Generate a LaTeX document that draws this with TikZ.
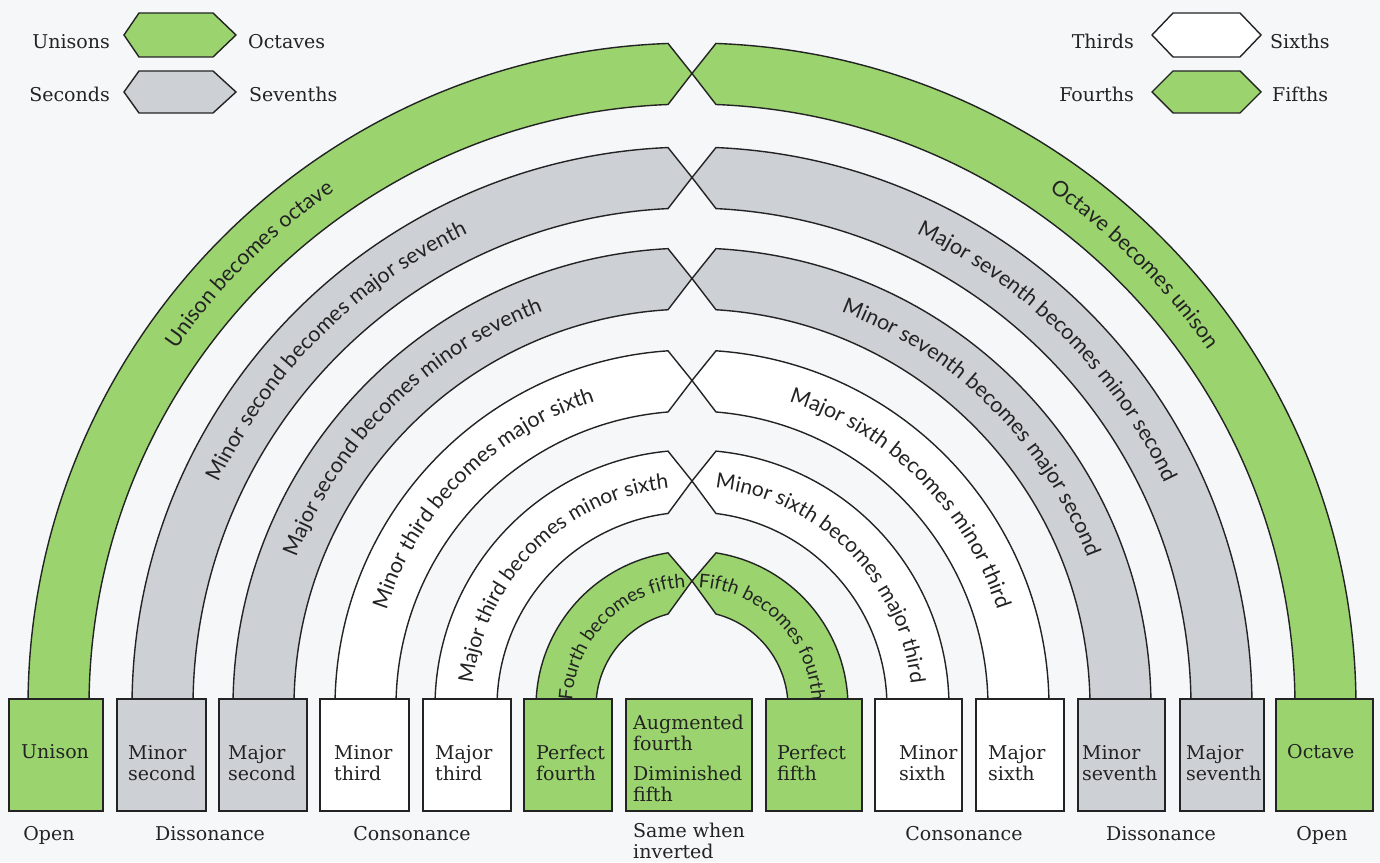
\documentclass[tikz,border=0pt]{standalone}
\usepackage{fontspec}
\setmainfont{DejaVu Serif}
\newfontfamily\arcfont{Lato}
\usetikzlibrary{decorations.text}

\definecolor{bandgreen}{RGB}{155,212,110}
\definecolor{bandgray}{RGB}{205,208,213}
\definecolor{paper}{RGB}{246,247,248}
\definecolor{ink}{RGB}{35,35,35}

% horizontal half-width of the pointed tips where the two halves of a band meet
\newcommand\chevoff{24}

% left half of a band: outer radius, inner radius, fill colour
\newcommand\bandleft[3]{%
  \filldraw[outline, fill=#3] (180:#1)
    arc[start angle=180, end angle={90+asin(\chevoff/#1)}, radius=#1]
    -- (0,{(#1+#2)/2}) -- ({90+asin(\chevoff/#2)}:#2)
    arc[start angle={90+asin(\chevoff/#2)}, end angle=180, radius=#2] -- cycle;}

% right half of a band
\newcommand\bandright[3]{%
  \filldraw[outline, fill=#3] (0:#1)
    arc[start angle=0, end angle={90-asin(\chevoff/#1)}, radius=#1]
    -- (0,{(#1+#2)/2}) -- ({90-asin(\chevoff/#2)}:#2)
    arc[start angle={90-asin(\chevoff/#2)}, end angle=0, radius=#2] -- cycle;}

% captions set along the bands: baseline radius, font size, text
\newcommand\captionleft[3]{%
  \path[decorate, decoration={text along path, text align=center,
      text={|\arcfont\fontsize{#2}{#2}\selectfont\color{ink}|#3}}]
    (200:#1) arc[start angle=200, end angle=70, radius=#1];}
\newcommand\captionright[3]{%
  \path[decorate, decoration={text along path, text align=center,
      text={|\arcfont\fontsize{#2}{#2}\selectfont\color{ink}|#3}}]
    (110:#1) arc[start angle=110, end angle=-20, radius=#1];}

\begin{document}
\begin{tikzpicture}[x=1pt, y=1pt,
  outline/.style={draw=ink, line width=1.4pt, line join=miter},
  ivbox/.style={outline, rectangle, inner sep=0pt, minimum height=112pt},
  lbl/.style={font=\fontsize{19}{21}\selectfont, text=ink, inner sep=0pt},
  % multi-line labels are anchored at the baseline of their last line
  boxlabel/.style={lbl, align=left, anchor=base west},
]
\useasboundingbox (-692,-155) rectangle (688,707);
\fill[paper] (-692,-155) rectangle (688,707);

% ---- legend ----
\filldraw[outline, fill=bandgreen] (-568,672) -- (-553,694) -- (-479,694) -- (-456,672) -- (-479,650) -- (-553,650) -- cycle;
\filldraw[outline, fill=bandgray]  (-568,615) -- (-553,636) -- (-479,636) -- (-456,615) -- (-479,594) -- (-553,594) -- cycle;
\filldraw[outline, fill=white]     (460,672) -- (481,694) -- (548,694) -- (569,672) -- (548,650) -- (481,650) -- cycle;
\filldraw[outline, fill=bandgreen] (460,615) -- (481,636) -- (548,636) -- (569,615) -- (548,594) -- (481,594) -- cycle;
\node[lbl, anchor=base east] (kUni) at (-582,658) {Unisons};
\node[lbl, anchor=base west] (kOct) at (-444,658) {Octaves};
\node[lbl, anchor=base east] (kSec) at (-582,605) {Seconds};
\node[lbl, anchor=base west] (kSev) at (-443,605) {Sevenths};
\node[lbl, anchor=base east] (kThi) at (442,658) {Thirds};
\node[lbl, anchor=base west] (kSix) at (578,658) {Sixths};
\node[lbl, anchor=base east] (kFou) at (442,605) {Fourths};
\node[lbl, anchor=base west] (kFif) at (580,605) {Fifths};

% ---- inversion bands ----
\bandleft{664}{603}{bandgreen}  \bandright{664}{603}{bandgreen}
\bandleft{560}{499}{bandgray}   \bandright{560}{499}{bandgray}
\bandleft{459}{398}{bandgray}   \bandright{459}{398}{bandgray}
\bandleft{357}{296}{white}      \bandright{357}{296}{white}
\bandleft{257}{195}{white}      \bandright{257}{195}{white}
\bandleft{156}{96}{bandgreen}   \bandright{156}{96}{bandgreen}

% ---- interval boxes ----
\node[ivbox, fill=bandgreen, minimum width=94pt] (bUni) at (-636,-48) {};
\node[ivbox, fill=bandgray,  minimum width=89pt] (bMi2) at (-530.5,-48) {};
\node[ivbox, fill=bandgray,  minimum width=88pt] (bMa2) at (-429,-48) {};
\node[ivbox, fill=white,     minimum width=89pt] (bMi3) at (-327.5,-48) {};
\node[ivbox, fill=white,     minimum width=88pt] (bMa3) at (-225,-48) {};
\node[ivbox, fill=bandgreen, minimum width=88pt] (bP4)  at (-124,-48) {};
\node[ivbox, fill=bandgreen, minimum width=126pt] (bTri) at (-3,-48) {};
\node[ivbox, fill=bandgreen, minimum width=96pt] (bP5)  at (122,-48) {};
\node[ivbox, fill=white,     minimum width=87pt] (bMi6) at (226.5,-48) {};
\node[ivbox, fill=white,     minimum width=88pt] (bMa6) at (328,-48) {};
\node[ivbox, fill=bandgray,  minimum width=87pt] (bMi7) at (429.5,-48) {};
\node[ivbox, fill=bandgray,  minimum width=84pt] (bMa7) at (530,-48) {};
\node[ivbox, fill=bandgreen, minimum width=97pt] (bOct) at (632.5,-48) {};

% ---- band captions ----
\captionleft{627.5}{21.5}{Unison becomes octave}
\captionright{627.5}{21.5}{Octave becomes unison}
\captionleft{523.5}{21.5}{Minor second becomes major seventh}
\captionright{523.5}{21.5}{Major seventh becomes minor second}
\captionleft{422.5}{21.5}{Major second becomes minor seventh}
\captionright{422.5}{21.5}{Minor seventh becomes major second}
\captionleft{320.5}{21.5}{Minor third becomes major sixth}
\captionright{320.5}{21.5}{Major sixth becomes minor third}
\captionleft{220}{21}{Major third becomes minor sixth}
\captionright{220}{21}{Minor sixth becomes major third}
\captionleft{120}{19}{Fourth becomes fifth}
\captionright{120}{19}{Fifth becomes fourth}

% ---- box labels ----
\node[boxlabel] (tUni) at (-671,-51) {Unison};
\node[boxlabel] (tMi2) at (-564,-73) {Minor\\second};
\node[boxlabel] (tMa2) at (-464,-73) {Major\\second};
\node[boxlabel] (tMi3) at (-358,-73) {Minor\\third};
\node[boxlabel] (tMa3) at (-257,-73) {Major\\third};
\node[boxlabel] (tP4)  at (-156,-73) {Perfect\\fourth};
\node[boxlabel] (tTri) at (-59,-94) {Augmented\\fourth\\[9pt]Diminished\\fifth};
\node[boxlabel] (tP5)  at (85,-73) {Perfect\\fifth};
\node[boxlabel] (tMi6) at (207,-73) {Minor\\sixth};
\node[boxlabel] (tMa6) at (296,-73) {Major\\sixth};
\node[boxlabel] (tMi7) at (390,-73) {Minor\\seventh};
\node[boxlabel] (tMa7) at (494,-73) {Major\\seventh};
\node[boxlabel] (tOct) at (595,-51) {Octave};

% ---- character of each group ----
\node[lbl, anchor=base] (cOpenL) at (-643,-133) {Open};
\node[lbl, anchor=base] (cDisL)  at (-482,-133) {Dissonance};
\node[lbl, anchor=base] (cConL)  at (-280,-133) {Consonance};
\node[boxlabel] (cSame) at (-59,-151) {Same when\\inverted};
\node[lbl, anchor=base] (cConR)  at (272,-133) {Consonance};
\node[lbl, anchor=base] (cDisR)  at (469,-133) {Dissonance};
\node[lbl, anchor=base] (cOpenR) at (630,-133) {Open};
\end{tikzpicture}
\end{document}
